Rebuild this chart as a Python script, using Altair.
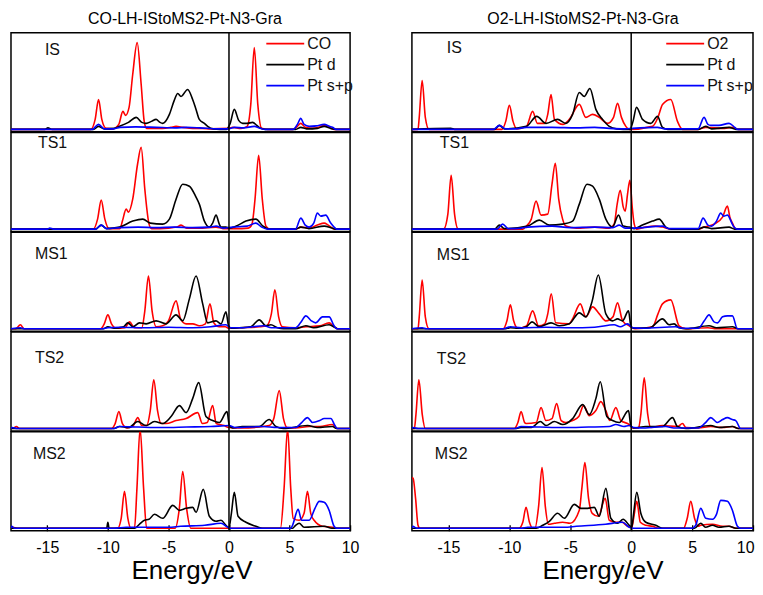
import altair as alt
import pandas as pd

FONT = "Liberation Sans"
STATES = ["IS", "TS1", "MS1", "TS2", "MS2"]
SERIES_COLORS = ["#ff0000", "#000000", "#0000ff"]
TICKS = [-15, -10, -5, 0, 5, 10]
X_DOMAIN = [-18, 10]
Y_DOMAIN = [-2.5, 96.9]
TITLES = ["CO-LH-IStoMS2-Pt-N3-Gra", "O2-LH-IStoMS2-Pt-N3-Gra"]
LEGENDS = [["CO", "Pt d", "Pt s+p"], ["O2", "Pt d", "Pt s+p"]]

# ---------------- Left column: CO ----------------
CO_IS_ADS = [[-18,0],[-11.4,0],[-11.05,10],[-10.77,30],[-10.5,10],[-10.15,1],[-9.6,0.5],[-9.1,5],[-8.76,18],[-8.54,14],[-8.25,22],[-7.95,55],[-7.58,87],[-7.25,45],[-7.0,8],[-6.8,1],[-5.5,1],[-4.8,2],[-4.37,3],[-3.8,2],[-3.0,1],[-2.2,1],[-1.5,0.5],[0.0,1],[0.3,2],[1.0,1],[1.5,3],[1.8,25],[2.09,82],[2.38,25],[2.7,1],[3.2,0],[5.3,0],[5.65,3],[5.93,6],[6.3,2],[6.9,1],[7.4,2],[7.86,4],[8.3,2],[8.7,0],[10,0]]
CO_IS_PTD = [[-18,0],[-15.2,0],[-14.95,1.5],[-14.6,0],[-11.2,0],[-10.77,3],[-10.3,0.5],[-9.5,1],[-9.04,3],[-8.3,7],[-7.66,12],[-7.2,7],[-6.84,6],[-6.4,8],[-6.02,10],[-5.7,7],[-5.47,6],[-4.92,15],[-4.55,28],[-4.23,36],[-3.96,33],[-3.41,40],[-3.0,30],[-2.72,20],[-2.45,10],[-2.03,6],[-1.76,3],[-1.3,0.5],[-0.2,0],[0.1,6],[0.44,20],[0.8,9],[1.13,6],[1.5,6],[1.95,7],[2.3,4],[2.6,1],[3.0,0],[5.5,0],[5.93,2],[6.4,0.5],[7.3,1],[7.86,3],[8.4,1],[8.8,0],[10,0]]
CO_IS_PTSP = [[-18,0],[-11.3,0],[-10.77,5],[-10.3,0.5],[-9.5,0.5],[-9.0,2],[-7.7,2.5],[-6.0,2],[-4.5,1.5],[-3.5,2],[-2.4,1.5],[-1.0,0.5],[0.0,0.5],[0.44,2],[1.2,1.5],[2.09,3],[2.6,1],[3.0,0],[5.3,0],[5.65,5],[5.93,11],[6.2,5],[6.62,3],[7.2,3.5],[7.86,5],[8.3,3],[8.54,2],[8.85,0],[10,0]]

CO_TS1_ADS = [[-18,0],[-11.2,0],[-10.85,10],[-10.55,29],[-10.25,10],[-9.9,0.5],[-9.0,0.5],[-8.8,8],[-8.49,20],[-8.3,17],[-7.95,30],[-7.55,65],[-7.25,82],[-6.95,40],[-6.6,5],[-6.4,0.5],[-5.0,1],[-4.3,2],[-3.96,4],[-3.5,1],[-2.5,1],[-1.07,2],[-0.5,0.5],[0.5,0.5],[1.6,1],[1.9,5],[2.15,30],[2.45,74],[2.75,30],[3.05,3],[3.4,0],[5.5,0],[5.93,2],[6.6,1],[7.3,4],[7.86,6],[8.2,4],[8.7,0],[10,0]]
CO_TS1_PTD = [[-18,0],[-11.0,0],[-10.55,4],[-10.1,0.5],[-9.04,2],[-7.94,8],[-7.12,10],[-6.5,6],[-5.47,5],[-4.92,10],[-4.37,30],[-3.82,45],[-3.27,43],[-2.72,32],[-2.45,25],[-2.03,8],[-1.62,2],[-1.35,6],[-1.07,14],[-0.8,5],[-0.66,2],[-0.25,2],[0.0,1],[0.6,3],[1.4,8],[2.22,10],[2.8,3],[3.3,0],[5.5,0],[5.93,2],[6.6,0.5],[7.86,3],[8.5,1],[8.8,0],[10,0]]
CO_TS1_PTSP = [[-18,0],[-15.0,0],[-14.8,1],[-14.5,0],[-11.0,0],[-10.55,4],[-10.1,0.5],[-9.0,1.5],[-7.5,2],[-6,1.5],[-4.5,2],[-3.0,1.5],[-1.5,2],[-1.07,3],[-0.5,1],[0.3,2],[1.5,3],[2.22,6],[2.7,2],[3.2,0],[5.5,0],[5.93,11],[6.3,4],[6.62,2],[7.0,6],[7.3,16],[7.58,13],[7.99,14],[8.4,6],[8.68,2],[8.9,0],[10,0]]

CO_MS1_ADS = [[-18,0],[-17.6,0],[-17.23,4],[-16.9,0],[-10.6,0],[-10.3,5],[-10.0,14],[-9.7,5],[-9.3,0.5],[-8.6,1],[-8.21,7],[-7.8,1],[-7.2,1],[-6.95,18],[-6.65,53],[-6.35,18],[-6.0,2],[-5.47,3],[-5.0,8],[-4.37,28],[-4.0,10],[-3.54,5],[-2.99,5],[-2.45,3],[-1.95,5],[-1.57,25],[-1.25,6],[-0.8,2],[-0.3,2],[0.0,0.5],[0.85,1],[2.5,2],[3.1,3],[3.5,15],[3.79,39],[4.1,12],[4.42,2],[5.5,1],[6.35,2],[7.5,3],[8.27,6],[8.68,2],[9.0,0],[10,0]]
CO_MS1_PTD = [[-18,0],[-10.4,0],[-10.0,2],[-9.5,0.5],[-8.7,2],[-8.35,6],[-7.94,2],[-7.39,6],[-6.84,5],[-6.02,8],[-5.19,5],[-4.37,14],[-3.82,8],[-3.27,30],[-2.72,53],[-2.17,25],[-1.76,6],[-1.07,8],[-0.66,5],[-0.25,17],[-0.03,3],[0.2,0.5],[0.85,1],[1.8,2],[2.5,9],[3.05,3],[3.46,4],[4.0,1],[4.5,0],[5.5,0],[6.35,3],[7.0,1],[8.27,4],[8.8,1],[9.0,0],[10,0]]
CO_MS1_PTSP = [[-18,0],[-17.23,1],[-16.9,0],[-10.5,0],[-10.0,1],[-9.0,1.5],[-7,1],[-5,1.5],[-3,1],[-1.5,2],[-0.25,4],[0.1,1],[1.0,1],[2.9,3],[3.5,1],[5.5,1],[5.9,6],[6.35,13],[6.8,8],[7.17,6],[7.72,12],[8.27,12],[8.68,3],[8.9,0],[10,0]]

CO_TS2_ADS = [[-18,0],[-17.8,0.5],[-17.55,2],[-17.3,0],[-9.7,0],[-9.4,5],[-9.09,17],[-8.8,5],[-8.4,0.5],[-7.9,3],[-7.53,11],[-7.2,3],[-6.8,3],[-6.5,18],[-6.21,49],[-5.9,18],[-5.6,5],[-5.2,5],[-4.37,8],[-3.54,10],[-2.58,16],[-2.2,5],[-1.8,6],[-1.35,23],[-1.05,5],[-0.4,3],[0.0,1],[1.0,0.5],[3.32,3],[3.7,10],[4.15,38],[4.5,10],[4.8,1],[5.5,0.5],[6.62,2],[7.5,2],[8.54,4],[8.9,0],[10,0]]
CO_TS2_PTD = [[-18,0],[-9.5,0],[-9.04,2],[-8.3,1],[-7.53,7],[-6.84,3],[-6.15,7],[-5.47,5],[-4.78,12],[-4.09,23],[-3.54,16],[-3.0,30],[-2.5,46],[-1.9,12],[-1.35,8],[-0.8,6],[-0.16,17],[0.03,3],[0.3,0.5],[1.1,2],[2.5,2],[3.32,9],[3.87,2],[4.5,0],[6.48,3],[7.3,1],[8.54,2],[8.9,0],[10,0]]
CO_TS2_PTSP = [[-18,0],[-17.9,1],[-17.5,0],[-9.5,0],[-9.04,2],[-7.5,1.5],[-5.5,1],[-3.5,1.5],[-1.5,2],[0.0,3],[0.5,1],[2.77,2],[4.0,1],[5.5,1],[6.0,6],[6.48,11],[6.9,6],[7.5,8],[7.86,10],[8.41,10],[8.75,3],[8.96,0],[10,0]]

CO_MS2_ADS = [[-18,0],[-17.85,1],[-17.5,0],[-9.2,0],[-8.9,10],[-8.63,37],[-8.35,10],[-8.1,0],[-7.8,0],[-7.6,40],[-7.34,100],[-7.05,40],[-6.8,0],[-4.45,0],[-4.1,20],[-3.82,57],[-3.5,20],[-3.15,0],[4.25,0],[4.55,40],[4.84,100],[5.1,40],[5.3,10],[5.8,8],[6.2,15],[6.48,37],[6.75,15],[7.03,8],[7.72,2],[8.54,1],[8.9,0],[10,0]]
CO_MS2_PTD = [[-18,0],[-10.1,0],[-10.0,6],[-9.9,0],[-7.8,0],[-7.4,4],[-6.98,8],[-6.6,9],[-6.15,14],[-5.47,10],[-4.64,23],[-4.1,18],[-3.54,20],[-2.99,21],[-2.72,16],[-2.12,39],[-1.62,12],[-1.07,7],[-0.66,8],[-0.25,3],[0.0,0.5],[0.2,15],[0.44,36],[0.75,12],[1.4,6],[2.22,2],[2.77,0],[5.25,0],[5.5,3],[5.8,5],[6.2,1],[7.86,2],[8.5,0],[10,0]]
CO_MS2_PTSP = [[-18,0],[-17.95,2],[-17.7,0],[-9.5,0],[-8.5,1],[-5,1],[-4.0,2],[-2.0,3],[-0.66,5],[-0.1,1],[0.2,0],[5.1,0],[5.25,3],[5.71,19],[6.0,8],[6.62,8],[7.1,20],[7.45,27],[7.86,26],[8.27,18],[8.68,2],[8.9,0],[10,0]]

# ---------------- Right column: O2 ----------------
O2_IS_ADS = [[-18,0],[-17.5,0],[-17.4,12],[-17.16,49],[-16.9,12],[-16.6,0],[-10.6,0],[-10.3,8],[-10.0,24],[-9.7,8],[-9.4,0.5],[-8.6,3],[-8.09,18],[-7.7,6],[-7.1,6],[-6.85,15],[-6.58,35],[-6.3,10],[-5.6,5],[-5.08,10],[-4.26,25],[-3.72,12],[-3.17,15],[-2.62,12],[-1.94,6],[-1.45,12],[-1.12,26],[-0.8,12],[-0.44,3],[-0.16,0],[1.75,3],[2.2,12],[2.57,25],[3.25,30],[3.8,8],[4.21,0],[5.5,0],[6.12,2],[7.5,1],[8.31,2],[8.8,0],[10,0]]
O2_IS_PTD = [[-18,0],[-14.8,1],[-14.5,0],[-11.2,0],[-10.82,4],[-10.4,0.5],[-8.6,3],[-7.76,13],[-6.99,6],[-6.04,10],[-5.36,6],[-4.81,15],[-4.26,37],[-3.85,33],[-3.39,41],[-2.9,20],[-2.35,10],[-1.8,3],[-1.2,0.5],[-0.1,0],[0.15,8],[0.44,22],[0.93,10],[1.61,6],[2.16,13],[2.57,2],[3.0,0],[5.5,0],[6.12,3],[6.6,0.5],[8.03,2],[8.6,0],[10,0]]
O2_IS_PTSP = [[-18,0],[-11.3,0],[-10.82,4],[-10.3,0.5],[-9.5,0.5],[-8.6,2],[-6.5,2],[-4.5,1.5],[-3.0,2],[-1.8,1],[-0.5,0.5],[0.11,1],[2.16,2],[2.7,0.5],[5.5,0.5],[5.98,12],[6.3,5],[6.53,4],[7.2,4],[8.03,6],[8.5,2],[8.72,0],[10,0]]

O2_TS1_ADS = [[-18,0],[-15.4,0],[-15.05,15],[-14.78,54],[-14.5,15],[-14.2,0],[-8.9,0],[-8.6,3],[-8.2,10],[-7.81,28],[-7.4,14],[-6.85,15],[-6.5,45],[-6.23,66],[-5.95,30],[-5.63,10],[-5.36,3],[-4.5,1],[-3,2],[-1.8,1],[-1.4,5],[-1.15,25],[-0.9,39],[-0.65,22],[-0.49,18],[-0.3,35],[-0.11,49],[0.1,20],[0.25,5],[0.45,0],[1.2,2],[2.0,3],[2.57,2],[3.2,0],[5.5,0],[5.98,2],[6.8,5],[7.5,12],[7.9,23],[8.1,12],[8.31,6],[8.58,0],[10,0]]
O2_TS1_PTD = [[-18,0],[-11.2,0],[-10.82,4],[-10.4,0.5],[-8.5,3],[-7.54,9],[-6.72,4],[-5.63,5],[-4.81,8],[-4.26,25],[-3.63,45],[-3.17,43],[-2.62,30],[-2.08,10],[-1.53,2],[-1.04,14],[-0.66,3],[-0.16,2],[0.25,0.5],[0.93,4],[1.75,8],[2.3,10],[2.84,2],[3.3,0],[5.5,0],[5.98,2],[6.6,0.5],[8.03,2],[8.5,0],[10,0]]
O2_TS1_PTSP = [[-18,0],[-11.0,0],[-10.55,5],[-10.1,0.5],[-9.0,1],[-8.5,2],[-6.5,3],[-5,1.5],[-3,2],[-1.5,1.5],[-0.98,4],[-0.5,1],[0.11,1],[2.57,3],[3.1,0.5],[5.5,0.5],[5.9,11],[6.3,4],[6.6,3],[7.0,8],[7.35,16],[7.6,13],[7.9,14],[8.3,5],[8.44,2],[8.7,0],[10,0]]

O2_MS1_ADS = [[-18,0],[-17.5,0],[-17.4,12],[-17.16,49],[-16.9,12],[-16.6,0],[-10.5,0],[-10.2,8],[-9.92,24],[-9.65,8],[-9.3,0.5],[-8.6,3],[-8.09,18],[-7.6,3],[-7.1,5],[-6.85,15],[-6.56,35],[-6.2,6],[-5.08,5],[-4.81,10],[-4.18,25],[-3.72,12],[-3.17,22],[-2.62,15],[-2.08,8],[-1.5,12],[-1.12,26],[-0.71,8],[-0.16,3],[0.3,0],[1.75,2],[2.2,15],[2.57,25],[3.25,29],[3.93,3],[4.5,0],[6.3,1],[7.0,0],[10,0]]
O2_MS1_PTD = [[-18,0],[-10.4,0],[-9.92,1],[-9.3,0.5],[-8.6,2],[-8.14,7],[-7.54,2],[-6.58,6],[-5.9,3],[-5.08,5],[-4.26,16],[-3.72,12],[-3.2,28],[-2.7,54],[-2.08,15],[-1.53,8],[-1.12,10],[-0.71,8],[-0.22,18],[-0.03,3],[0.2,0.5],[1.5,1],[2.57,10],[3.11,4],[3.52,5],[3.93,1],[4.5,0],[6.39,3],[7.0,1],[8.31,2],[8.8,0],[10,0]]
O2_MS1_PTSP = [[-18,0],[-17.16,1],[-16.8,0],[-10.5,0],[-9.92,2],[-9.0,1],[-7,1.5],[-5,1],[-3,1.5],[-1.4,4],[-0.9,2],[-0.3,5],[0.11,1],[1.0,0.5],[3.65,2],[4.2,0.5],[5.5,0.5],[6.0,8],[6.39,14],[6.8,7],[7.08,6],[7.5,12],[7.9,13],[8.31,13],[8.72,0],[10,0]]

O2_TS2_ADS = [[-18,0],[-17.8,0],[-17.67,14],[-17.43,49],[-17.15,14],[-16.9,0],[-9.6,0],[-9.3,6],[-9.04,17],[-8.75,6],[-8.63,5],[-7.8,6],[-7.4,21],[-7.0,8],[-6.5,10],[-6.12,25],[-5.75,8],[-5.36,6],[-4.81,8],[-4.3,12],[-3.91,23],[-3.44,13],[-2.9,18],[-2.49,27],[-2.08,18],[-1.75,8],[-1.26,21],[-0.85,8],[-0.16,4],[0.11,0.5],[0.6,0.5],[0.8,15],[1.07,51],[1.35,15],[1.6,1],[2.57,3],[3.8,2],[4.21,5],[4.5,1],[5.5,0.5],[6.53,2],[7.5,1],[8.31,2],[8.8,0],[10,0]]
O2_TS2_PTD = [[-18,0],[-9.5,0],[-9.04,1],[-8.2,1],[-7.46,7],[-6.99,3],[-6.31,7],[-5.63,4],[-4.81,10],[-3.99,24],[-3.44,14],[-2.9,30],[-2.54,47],[-2.0,12],[-1.53,8],[-0.98,6],[-0.22,18],[-0.03,3],[0.2,0.5],[1.2,2],[2.57,2],[3.39,11],[3.8,2],[4.5,0],[6.53,3],[7.2,1],[8.31,2],[8.8,0],[10,0]]
O2_TS2_PTSP = [[-18,0],[-17.92,1],[-17.5,0],[-9.5,0],[-9.04,2],[-7.5,1.5],[-5.5,1],[-3.5,1.5],[-1.8,2],[-1.26,4],[-0.6,2],[-0.16,3],[0.2,1],[1.0,0.5],[2.84,2],[3.5,0.5],[5.5,0.5],[6.1,6],[6.53,11],[7.08,6],[7.5,9],[7.9,11],[8.3,9],[8.58,8],[8.99,0],[10,0]]

O2_MS2_ADS = [[-18,51],[-17.9,50],[-17.7,30],[-17.5,3],[-17.35,0],[-9.2,0],[-8.9,6],[-8.63,21],[-8.35,6],[-8.1,0],[-7.9,0],[-7.6,22],[-7.32,61],[-7.05,22],[-6.8,4],[-6.3,5],[-5.63,6],[-5.0,5],[-4.26,18],[-4.05,40],[-3.8,66],[-3.5,30],[-3.2,15],[-2.7,12],[-2.13,30],[-1.8,8],[-1.26,6],[-0.75,6],[-0.3,2],[0.05,1],[0.2,10],[0.46,27],[0.75,6],[1.2,3],[1.75,2],[2.3,0],[4.3,0],[4.6,10],[4.89,27],[5.2,10],[5.5,2],[5.71,3],[6.67,4],[7.5,2],[8.03,2],[8.6,0],[10,0]]
O2_MS2_PTD = [[-18,0],[-7.8,0],[-7.27,3],[-6.72,7],[-6.04,15],[-5.49,10],[-4.67,24],[-4.13,20],[-3.58,20],[-3.03,21],[-2.62,12],[-2.08,40],[-1.67,10],[-1.12,5],[-0.66,9],[-0.16,3],[0.05,1],[0.2,15],[0.46,36],[0.79,15],[1.2,6],[2.02,3],[2.6,0],[5.2,0],[5.71,5],[6.1,1],[6.67,3],[7.2,1],[8.03,2],[8.6,0],[10,0]]
O2_MS2_PTSP = [[-18,0],[-17.92,2],[-17.6,0],[-9.0,0],[-8.5,1],[-5.5,1],[-4.5,2],[-2.1,4],[-0.71,6],[-0.16,1],[0.2,0],[5.0,0],[5.3,3],[5.71,20],[6.12,10],[6.67,9],[7.0,14],[7.35,28],[7.9,27],[8.31,18],[8.72,2],[8.99,0],[10,0]]

CURVES = [
    {"IS": [CO_IS_ADS, CO_IS_PTD, CO_IS_PTSP],
     "TS1": [CO_TS1_ADS, CO_TS1_PTD, CO_TS1_PTSP],
     "MS1": [CO_MS1_ADS, CO_MS1_PTD, CO_MS1_PTSP],
     "TS2": [CO_TS2_ADS, CO_TS2_PTD, CO_TS2_PTSP],
     "MS2": [CO_MS2_ADS, CO_MS2_PTD, CO_MS2_PTSP]},
    {"IS": [O2_IS_ADS, O2_IS_PTD, O2_IS_PTSP],
     "TS1": [O2_TS1_ADS, O2_TS1_PTD, O2_TS1_PTSP],
     "MS1": [O2_MS1_ADS, O2_MS1_PTD, O2_MS1_PTSP],
     "TS2": [O2_TS2_ADS, O2_TS2_PTD, O2_TS2_PTSP],
     "MS2": [O2_MS2_ADS, O2_MS2_PTD, O2_MS2_PTSP]},
]

# label placement (pixels inside each panel) - style only
LABEL_POS = [
    {"IS": (34, 17), "TS1": (27, 11), "MS1": (24, 22), "TS2": (24, 26), "MS2": (22, 22)},
    {"IS": (35, 15), "TS1": (28, 11), "MS1": (25, 23), "TS2": (25, 27), "MS2": (23, 22)},
]
LEGEND_X = [256, 255]   # legend line start inside each IS panel
WIDTHS = [340, 342]
TITLE_X = [181, 191]
PANEL_H = 99.4


def panel(col, state):
    last = state == STATES[-1]
    width = WIDTHS[col]
    if last:
        x_axis = alt.Axis(values=TICKS, title="Energy/eV",
                          labelExpr="toString(datum.value)",
                          titleFont=FONT, titleFontSize=26, titleFontWeight="normal",
                          titleColor="black", titlePadding=2, titleX=TITLE_X[col],
                          labelFont=FONT, labelFontSize=16, labelColor="black",
                          labelPadding=9, labelFlush=(col == 1), labelFlushOffset=1,
                          labelOverlap=False,
                          domain=False, ticks=True, tickSize=6, tickColor="black",
                          tickWidth=1.3, offset=-6, grid=False)
    else:
        x_axis = None
    xenc = alt.X("E:Q", scale=alt.Scale(domain=X_DOMAIN, nice=False, zero=False), axis=x_axis)
    yenc = alt.Y("DOS:Q", scale=alt.Scale(domain=Y_DOMAIN, nice=False, zero=False), axis=None)
    layers = []
    for pts, color in zip(CURVES[col][state], SERIES_COLORS):
        df = pd.DataFrame(pts, columns=["E", "DOS"])
        layers.append(
            alt.Chart(df).mark_line(color=color, strokeWidth=1.6, interpolate="monotone", clip=True)
            .encode(x=xenc, y=yenc)
        )
    layers.append(
        alt.Chart(pd.DataFrame({"E": [0]})).mark_rule(color="black", strokeWidth=1.5).encode(x=xenc)
    )
    lx, ly = LABEL_POS[col][state]
    layers.append(
        alt.Chart(pd.DataFrame({"label": [state]}))
        .mark_text(align="left", baseline="middle", font=FONT, fontSize=16, color="#111111")
        .encode(text="label:N", x=alt.value(lx), y=alt.value(ly))
    )
    if state == "IS":
        x0 = LEGEND_X[col]
        for k, (name, color) in enumerate(zip(LEGENDS[col], SERIES_COLORS)):
            yk = 11 + 21 * k
            ldf = pd.DataFrame({"name": [name]})
            layers.append(
                alt.Chart(ldf).mark_rule(color=color, strokeWidth=1.8)
                .encode(x=alt.value(x0), x2=alt.value(x0 + 38), y=alt.value(yk))
            )
            layers.append(
                alt.Chart(ldf).mark_text(align="left", baseline="middle", font=FONT, fontSize=16, color="#111111")
                .encode(text="name:N", x=alt.value(x0 + 41), y=alt.value(yk))
            )
    return alt.layer(*layers).properties(width=width, height=PANEL_H)


columns = []
for col in range(2):
    columns.append(
        alt.vconcat(*[panel(col, s) for s in STATES], spacing=0, bounds="flush").properties(
            title=alt.Title(TITLES[col], font=FONT, fontSize=16, fontWeight="normal",
                            color="black", anchor="middle", offset=4)
        )
    )

chart = (
    alt.hconcat(*columns, spacing=51)
    .properties(padding={"left": 2, "top": 2, "right": 0, "bottom": 0}, background="white")
    .configure_view(stroke="black", strokeWidth=1.5)
)

chart.save("out.html", embed_options={"renderer": "svg", "actions": False})
